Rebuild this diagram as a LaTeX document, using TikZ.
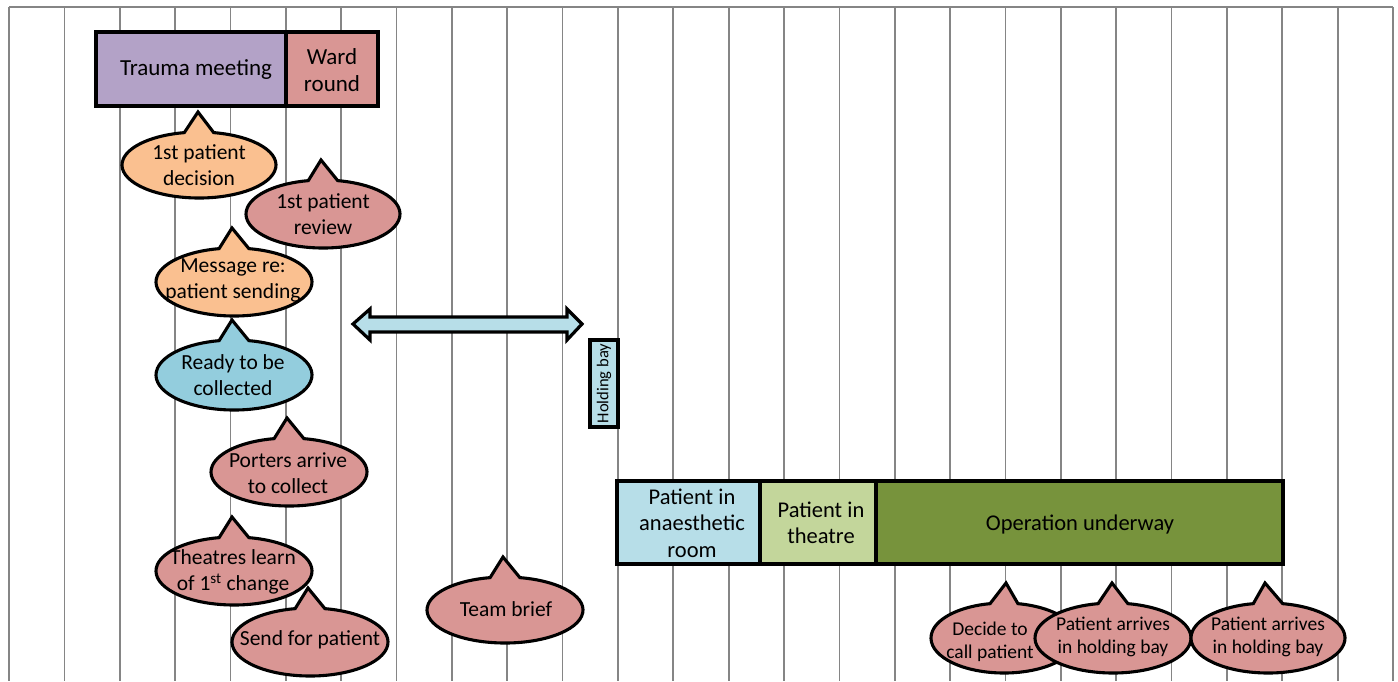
\documentclass[tikz,border=0pt]{standalone}
\usepackage{fontspec}
\setmainfont{Carlito}
\usetikzlibrary{calc}
\definecolor{cpurple}{HTML}{B3A2C7}
\definecolor{cpink}{HTML}{D99694}
\definecolor{corange}{HTML}{FAC090}
\definecolor{cblue}{HTML}{93CDDD}
\definecolor{clblue}{HTML}{B7DEE8}
\definecolor{clgreen}{HTML}{C3D69B}
\definecolor{colive}{HTML}{77933C}
\definecolor{cgrid}{HTML}{858585}
\tikzset{
  gridline/.style={draw=cgrid, line width=1.7pt},
  boxline/.style={draw=black, line width=3.2pt, line join=miter},
  bubbleline/.style={draw=black, line width=3.1pt, line join=miter},
  boxtext/.style={font=\fontsize{23}{27}\selectfont, align=center, inner sep=0pt},
  lowboxtext/.style={font=\fontsize{22.5}{26.5}\selectfont, align=center, inner sep=0pt},
  bubbletext/.style={font=\fontsize{21.5}{26}\selectfont, align=center, inner sep=0pt},
  smalltext/.style={font=\fontsize{19.5}{23.5}\selectfont, align=center, inner sep=0pt},
}
% #1 fill, #2 cx, #3 cy, #4 rx, #5 ry, #6 tip x
\newcommand\mybubble[6]{%
  \draw[bubbleline, fill=#1] (#6,#3-#5-20) -- ($(#2,#3)+(281:#4 and #5)$)
    arc[start angle=281, end angle=619, x radius=#4, y radius=#5] -- cycle;}
\begin{document}
\begin{tikzpicture}[x=1pt,y=-1pt]
\useasboundingbox (0,0) rectangle (1398,681);
% grid
\draw[gridline] (9,7) -- (1393,7);
\foreach \k in {0,...,25}{
  \draw[gridline] ({9+55.36*\k},7) -- ({9+55.36*\k},681);
}
% top boxes
\draw[boxline, fill=cpurple] (96,32) rectangle (286,106);
\draw[boxline, fill=cpink] (286,32) rectangle (378,106);
\node[boxtext] (trauma) at (196,70) {Trauma meeting};
\node[boxtext] (ward) at (332,70) {Ward\\round};
% bubbles
\mybubble{corange}{199}{165}{77}{33}{198}
\node[bubbletext] (decision) at (199,165) {1st patient\\decision};
\mybubble{cpink}{323}{214}{77}{34}{321}
\node[bubbletext] (review) at (323,214) {1st patient\\review};
\mybubble{corange}{234}{282}{78}{34}{232}
\node[bubbletext] (message) at (233,280) {Message re:\\patient sending};
\mybubble{cblue}{234}{375}{78}{35}{232}
\node[bubbletext] (ready) at (233,375) {Ready to be\\collected};
\mybubble{cpink}{289}{472}{78}{34}{287}
\node[bubbletext] (porters) at (288,473) {Porters arrive\\to collect};
\mybubble{cpink}{234}{571}{78}{34}{232}
\node[bubbletext] (theatres) at (233,572) {Theatres learn\\of 1\textsuperscript{st} change};
\mybubble{cpink}{310}{642}{78}{34}{308}
\node[bubbletext] (send) at (310,640) {Send for patient};
\mybubble{cpink}{505}{610}{78}{33}{503}
\node[bubbletext] (team) at (506,609) {Team brief};
% double arrow
\draw[boxline, fill=clblue] (353,324) -- (370,309) -- (370,317) -- (567,317) -- (567,309)
  -- (582,324) -- (567,340) -- (567,332) -- (370,332) -- (370,340) -- cycle;
% holding bay
\draw[boxline, fill=clblue] (590,340) rectangle (618,427);
\node[rotate=90, font=\fontsize{16.6}{20}\selectfont, inner sep=0pt] (holding) at (604,383.5) {Holding bay};
% bottom boxes
\draw[boxline, fill=clblue] (617,481) rectangle (760,564);
\draw[boxline, fill=clgreen] (760,481) rectangle (876,564);
\draw[boxline, fill=colive] (876,481) rectangle (1283,564);
\node[lowboxtext] (anaes) at (692,523) {Patient in\\anaesthetic\\room};
\node[lowboxtext] (theatre) at (821,523) {Patient in\\theatre};
\node[lowboxtext] (operation) at (1080,524) {Operation underway};
% lower right bubbles
\mybubble{cpink}{1004}{638}{73}{35}{1006}
\node[smalltext] (decide) at (990,642) {Decide to\\call patient};
\mybubble{cpink}{1113}{638}{78}{35}{1112}
\node[smalltext] (arr1) at (1113,637) {Patient arrives\\in holding bay};
\mybubble{cpink}{1268}{638}{77}{35}{1265}
\node[smalltext] (arr2) at (1268,637) {Patient arrives\\in holding bay};
\end{tikzpicture}
\end{document}
